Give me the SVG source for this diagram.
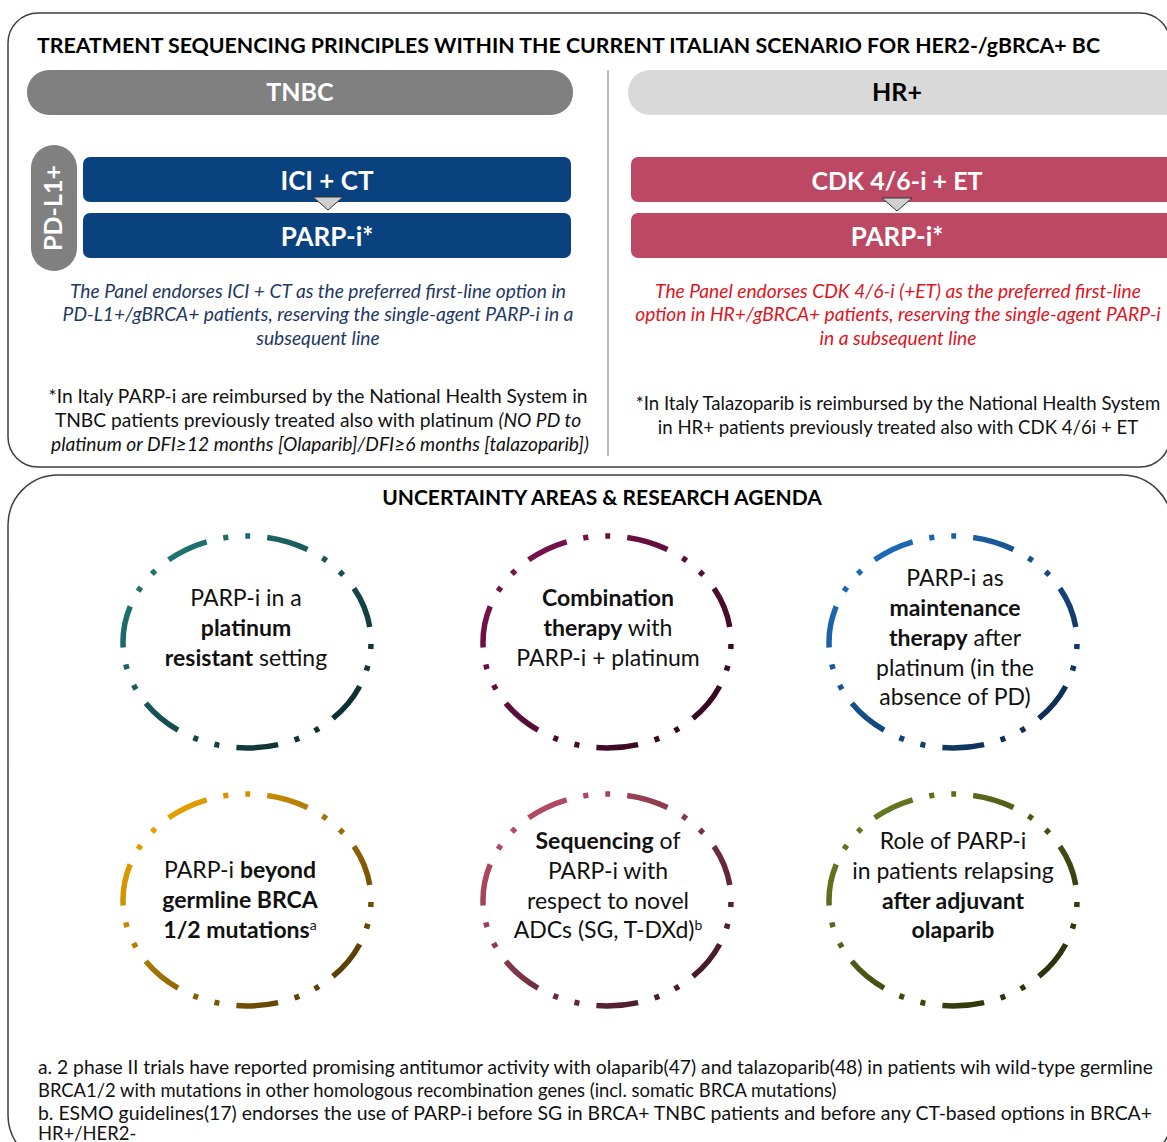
<svg xmlns="http://www.w3.org/2000/svg" width="1167" height="1142" viewBox="0 0 1167 1142">
<defs>
<linearGradient id="gTeal" x1="0" y1="0" x2="1" y2="1"><stop offset="0" stop-color="#22807c"/><stop offset="1" stop-color="#0c2226"/></linearGradient>
<linearGradient id="gPlum" x1="0" y1="0" x2="1" y2="1"><stop offset="0" stop-color="#831356"/><stop offset="1" stop-color="#2a0818"/></linearGradient>
<linearGradient id="gBlue" x1="0" y1="0" x2="1" y2="1"><stop offset="0" stop-color="#1f76c8"/><stop offset="1" stop-color="#0c2242"/></linearGradient>
<linearGradient id="gGold" x1="0" y1="0" x2="1" y2="1"><stop offset="0" stop-color="#ffb300"/><stop offset="1" stop-color="#3f2c06"/></linearGradient>
<linearGradient id="gRose" x1="0" y1="0" x2="1" y2="1"><stop offset="0" stop-color="#c9546f"/><stop offset="1" stop-color="#33111d"/></linearGradient>
<linearGradient id="gOlive" x1="0" y1="0" x2="1" y2="1"><stop offset="0" stop-color="#708424"/><stop offset="1" stop-color="#1f2607"/></linearGradient>
<style>
text{font-family:Lato,"Liberation Sans",sans-serif;}
.panel{fill:none;stroke:#3f3f3f;stroke-width:1.5;}
.title{font-size:21px;font-weight:bold;fill:#000;}
.pillT{font-size:25px;font-weight:bold;text-anchor:middle;}
.boxT{font-size:26px;font-weight:bold;fill:#fff;text-anchor:middle;}
.blueBox{fill:#0a4280;}
.pinkBox{fill:#bd4864;}
.note{font-size:19.2px;text-anchor:middle;}
.note.sm{font-size:18.6px;}
.navy{fill:#1f3864;font-style:italic;}
.red{fill:#e0141e;font-style:italic;}
.blk{fill:#111;}
.ring{fill:none;stroke-width:5.5;stroke-dasharray:5 17 5 17 42 17;stroke-dashoffset:-2;}
.ct{font-size:23px;fill:#111;text-anchor:middle;}
.b{font-weight:bold;}
.sup{font-size:14px;font-weight:normal;}
.tri{fill:#d0d0d0;stroke:#333;stroke-width:1;}
.foot{font-size:18.4px;fill:#111;}
</style>
</defs>

<g id="top-panel">
<rect class="panel" x="8" y="13" width="1162" height="454" rx="30"/>
<text class="title" x="37" y="53" textLength="1063" lengthAdjust="spacingAndGlyphs">TREATMENT SEQUENCING PRINCIPLES WITHIN THE CURRENT ITALIAN SCENARIO FOR HER2-/gBRCA+ BC</text>
<line x1="608" y1="70" x2="608" y2="456" stroke="#a6a6a6" stroke-width="1.5"/>
</g>

<g id="tnbc-header">
<rect x="27" y="70" width="546" height="45" rx="22" fill="#808080"/>
<text class="pillT" x="300" y="101" fill="#fff">TNBC</text>
</g>
<g id="hr-header">
<rect x="628" y="70" width="580" height="45" rx="22" fill="#d9d9d9"/>
<text class="pillT" x="897" y="101" fill="#000">HR+</text>
</g>

<g id="pdl1-label">
<rect x="31" y="145" width="46" height="126" rx="23" fill="#808080"/>
<text class="pillT" transform="translate(62 208) rotate(-90)" x="0" y="0" fill="#fff">PD-L1+</text>
</g>

<g id="ici-ct">
<rect class="blueBox" x="83" y="157" width="488" height="45" rx="7"/>
<text class="boxT" x="327" y="190">ICI + CT</text>
</g>
<g id="parpi-tnbc">
<rect class="blueBox" x="83" y="213" width="488" height="45" rx="7"/>
<text class="boxT" x="327" y="246">PARP-i*</text>
</g>
<g id="cdk-et">
<rect class="pinkBox" x="631" y="157" width="580" height="45" rx="7"/>
<text class="boxT" x="897" y="190" style="font-size:25px">CDK 4/6-i + ET</text>
</g>
<g id="parpi-hr">
<rect class="pinkBox" x="631" y="213" width="580" height="45" rx="7"/>
<text class="boxT" x="897" y="246">PARP-i*</text>
</g>

<g id="connectors">
<polygon class="tri" points="313,197 343,197 328,210"/>
<polygon class="tri" points="882,198 912,198 897,211"/>
</g>

<g id="tnbc-notes">
<text class="note navy" x="318" y="298">The Panel endorses  ICI + CT as the preferred first-line option in</text>
<text class="note navy" x="318" y="321">PD-L1+/gBRCA+ patients, reserving the single-agent PARP-i in a</text>
<text class="note navy" x="318" y="345">subsequent line</text>
<text class="note blk" x="318" y="403">*In Italy PARP-i are reimbursed by the National Health System in</text>
<text class="note blk" x="318" y="427">TNBC patients previously treated also with platinum <tspan font-style="italic">(NO PD to</tspan></text>
<text class="note blk" x="320" y="451" font-style="italic">platinum or DFI≥12 months [Olaparib]/DFI≥6 months [talazoparib])</text>
</g>

<g id="hr-notes">
<text class="note red" x="898" y="298">The Panel endorses  CDK 4/6-i (+ET) as the preferred first-line</text>
<text class="note red" x="898" y="321">option in HR+/gBRCA+ patients, reserving the single-agent PARP-i</text>
<text class="note red" x="898" y="345">in a subsequent line</text>
<text class="note sm blk" x="898" y="410">*In Italy Talazoparib is reimbursed by the National Health System</text>
<text class="note sm blk" x="898" y="434">in HR+ patients previously treated also with CDK 4/6i + ET</text>
</g>

<g id="bottom-panel">
<rect class="panel" x="8" y="475" width="1164" height="690" rx="50"/>
<text class="title" x="602" y="505" text-anchor="middle">UNCERTAINTY AREAS &amp; RESEARCH AGENDA</text>
</g>

<g id="c-platinum-resistant">
<path class="ring" d="M371,642 A124,106 0 0 1 123,642 A124,106 0 0 1 371,642 Z" stroke="url(#gTeal)" pathLength="721"/>
<text class="ct" x="246" y="606">PARP-i in a</text>
<text class="ct b" x="246" y="636">platinum</text>
<text class="ct" x="246" y="666"><tspan class="b">resistant</tspan> setting</text>
</g>

<g id="c-combination">
<path class="ring" d="M731,642 A124,106 0 0 1 483,642 A124,106 0 0 1 731,642 Z" stroke="url(#gPlum)" pathLength="721"/>
<text class="ct b" x="608" y="606">Combination</text>
<text class="ct" x="608" y="636"><tspan class="b">therapy</tspan> with</text>
<text class="ct" x="608" y="666">PARP-i + platinum</text>
</g>

<g id="c-maintenance">
<path class="ring" d="M1077,642 A124,106 0 0 1 829,642 A124,106 0 0 1 1077,642 Z" stroke="url(#gBlue)" pathLength="721"/>
<text class="ct" x="955" y="586">PARP-i as</text>
<text class="ct b" x="955" y="616">maintenance</text>
<text class="ct" x="955" y="646"><tspan class="b">therapy</tspan> after</text>
<text class="ct" x="955" y="676">platinum (in the</text>
<text class="ct" x="955" y="705">absence of PD)</text>
</g>

<g id="c-beyond-gbrca">
<path class="ring" d="M371,900 A124,106 0 0 1 123,900 A124,106 0 0 1 371,900 Z" stroke="url(#gGold)" pathLength="721"/>
<text class="ct" x="240" y="878">PARP-i <tspan class="b">beyond</tspan></text>
<text class="ct b" x="240" y="908">germline BRCA</text>
<text class="ct b" x="240" y="938">1/2 mutations<tspan class="sup" dy="-8">a</tspan></text>
</g>

<g id="c-sequencing">
<path class="ring" d="M731,900 A124,106 0 0 1 483,900 A124,106 0 0 1 731,900 Z" stroke="url(#gRose)" pathLength="721"/>
<text class="ct" x="608" y="849"><tspan class="b">Sequencing</tspan> of</text>
<text class="ct" x="608" y="879">PARP-i with</text>
<text class="ct" x="608" y="909">respect to novel</text>
<text class="ct" x="608" y="938">ADCs (SG, T-DXd)<tspan class="sup" dy="-8">b</tspan></text>
</g>

<g id="c-adjuvant">
<path class="ring" d="M1077,900 A124,106 0 0 1 829,900 A124,106 0 0 1 1077,900 Z" stroke="url(#gOlive)" pathLength="721"/>
<text class="ct" x="953" y="849">Role of PARP-i</text>
<text class="ct" x="953" y="879">in patients relapsing</text>
<text class="ct b" x="953" y="909">after adjuvant</text>
<text class="ct b" x="953" y="938">olaparib</text>
</g>

<g id="footnotes">
<text class="foot" x="38" y="1074" textLength="1115" lengthAdjust="spacingAndGlyphs">a. 2 phase II trials have reported promising antitumor activity with olaparib(47) and talazoparib(48) in patients wih wild-type germline</text>
<text class="foot" x="38" y="1097">BRCA1/2 with mutations in other homologous recombination genes (incl. somatic BRCA mutations)</text>
<text class="foot" x="38" y="1120" textLength="1114" lengthAdjust="spacingAndGlyphs">b. ESMO guidelines(17) endorses the use of PARP-i before SG in BRCA+ TNBC patients and before any CT-based options in BRCA+</text>
<text class="foot" x="38" y="1140">HR+/HER2-</text>
</g>
</svg>
